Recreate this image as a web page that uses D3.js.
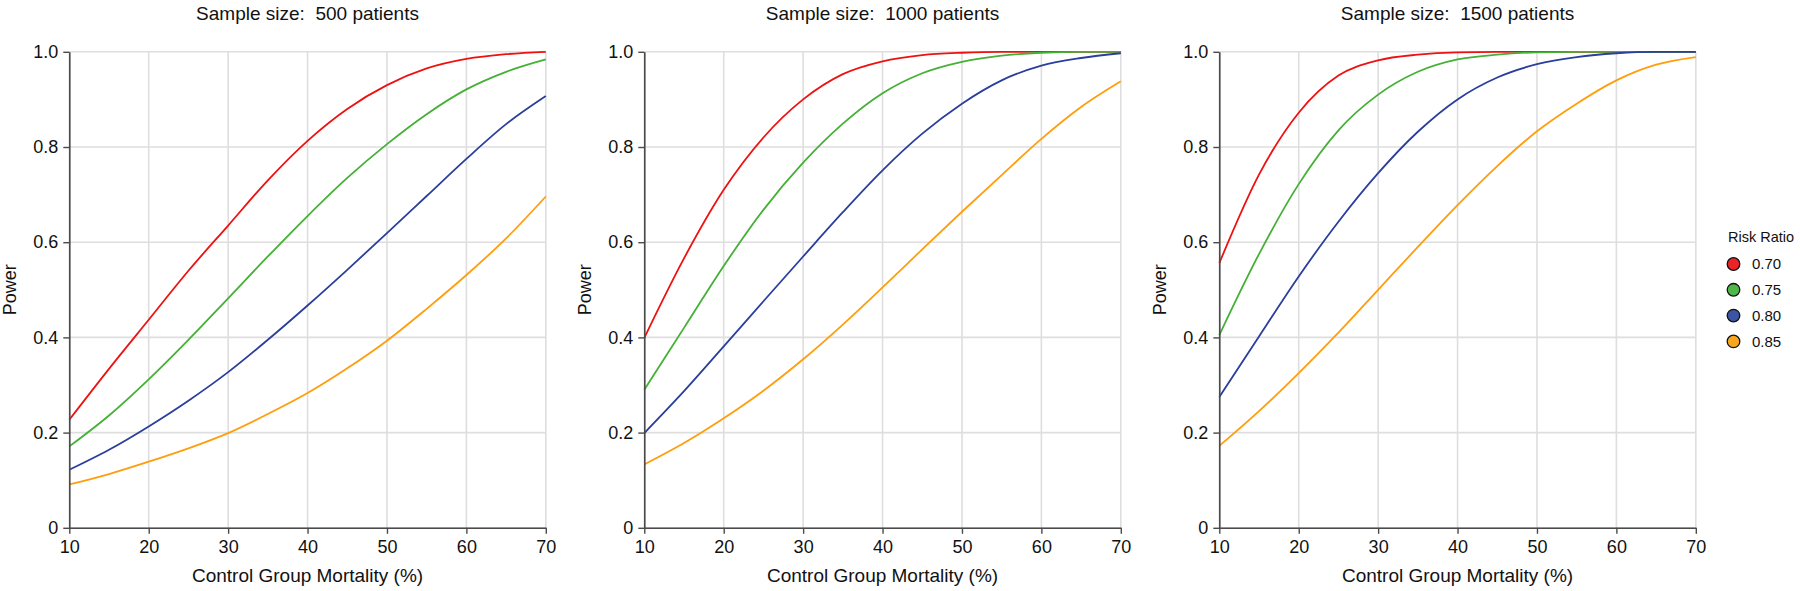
<!DOCTYPE html>
<html><head><meta charset="utf-8">
<script src="https://cdn.jsdelivr.net/npm/d3@7"></script>
<style>body{margin:0;background:#fff;}svg{display:block;font-family:"Liberation Sans",Arial,Helvetica,sans-serif;}</style>
</head><body><svg id="c" width="1800" height="591"></svg>
<script>
// Data
const mortality = [10,15,20,25,30,35,40,45,50,55,60,65,70];
const riskRatios = ["0.70","0.75","0.80","0.85"];
const seriesColors = ["#ee1111","#45b036","#2a3e9c","#ff9e0c"];
const legendColors = ["#ec2227","#4db848","#3a55a6","#f9a51d"];
const sampleSizes = ["500","1000","1500"];
const xTicks = [10,20,30,40,50,60,70];
const yTicks = [0,0.2,0.4,0.6,0.8,1.0];

// power by sample size, series order = riskRatios
const power500_070 = [0.227,0.334,0.437,0.540,0.635,0.730,0.813,0.880,0.930,0.965,0.985,0.995,1.0];
const power500_075 = [0.171,0.236,0.312,0.395,0.482,0.570,0.655,0.735,0.806,0.869,0.921,0.958,0.984];
const power500_080 = [0.122,0.164,0.213,0.267,0.327,0.395,0.467,0.542,0.619,0.697,0.775,0.848,0.907];
const power500_085 = [0.091,0.113,0.139,0.167,0.199,0.239,0.283,0.335,0.393,0.460,0.531,0.608,0.696];

const power1000_070 = [0.399,0.566,0.710,0.820,0.900,0.953,0.980,0.993,0.998,1.0,1.0,1.0,1.0];
const power1000_075 = [0.290,0.420,0.550,0.668,0.767,0.849,0.913,0.955,0.979,0.992,0.998,1.0,1.0];
const power1000_080 = [0.199,0.287,0.381,0.476,0.570,0.663,0.751,0.828,0.891,0.940,0.971,0.987,0.997];
const power1000_085 = [0.133,0.178,0.230,0.288,0.354,0.427,0.505,0.585,0.664,0.741,0.817,0.884,0.938];

const power1500_070 = [0.556,0.742,0.872,0.950,0.982,0.994,0.999,1.0,1.0,1.0,1.0,1.0,1.0];
const power1500_075 = [0.405,0.575,0.722,0.835,0.910,0.958,0.984,0.994,0.999,1.0,1.0,1.0,1.0];
const power1500_080 = [0.275,0.402,0.528,0.643,0.745,0.832,0.900,0.946,0.974,0.989,0.997,1.0,1.0];
const power1500_085 = [0.172,0.245,0.325,0.410,0.500,0.590,0.678,0.760,0.833,0.891,0.940,0.973,0.989];

const panels = [
  [power500_070,power500_075,power500_080,power500_085],
  [power1000_070,power1000_075,power1000_080,power1000_085],
  [power1500_070,power1500_075,power1500_080,power1500_085]
];

const svg = d3.select("#c");
const W = 476.5, H = 476;
const panelX = [69.3, 644.3, 1219.3];
const plotTop = 51.8;

const x = d3.scaleLinear().domain([10,70]).range([0,W]);
const y = d3.scaleLinear().domain([0,1]).range([H,0]);
const line = d3.line().x((d,i)=>x(mortality[i])).y(d=>y(d)).curve(d3.curveMonotoneX);

panels.forEach((series,p)=>{
  const g = svg.append("g").attr("transform",`translate(${panelX[p]},${plotTop})`);
  // grid
  g.append("g").selectAll("line").data(xTicks).join("line")
    .attr("x1",d=>x(d)).attr("x2",d=>x(d)).attr("y1",0).attr("y2",H)
    .attr("stroke","#dedede").attr("stroke-width",1.6);
  g.append("g").selectAll("line").data(yTicks).join("line")
    .attr("y1",d=>y(d)).attr("y2",d=>y(d)).attr("x1",0).attr("x2",W)
    .attr("stroke","#dedede").attr("stroke-width",1.6);
  // lines
  series.forEach((vals,i)=>{
    g.append("path").datum(vals).attr("d",line).attr("fill","none")
      .attr("stroke",seriesColors[i]).attr("stroke-width",1.8);
  });
  // axes
  const xa = g.append("g").attr("transform",`translate(0,${H})`)
    .call(d3.axisBottom(x).tickValues(xTicks).tickSize(6).tickPadding(6).tickSizeOuter(0));
  const ya = g.append("g")
    .call(d3.axisLeft(y).tickValues(yTicks).tickSize(6).tickPadding(5).tickSizeOuter(0)
      .tickFormat(d=>d===0?"0":d3.format(".1f")(d)));
  [xa,ya].forEach(a=>{
    a.select(".domain").attr("stroke","#4a4a4a").attr("stroke-width",1.6);
    a.selectAll(".tick line").attr("stroke","#4a4a4a").attr("stroke-width",1.4);
    a.selectAll("text").attr("font-size","18px").attr("fill","#111").attr("font-family","Liberation Sans, Arial, sans-serif");
  });
  // titles
  g.append("text").attr("x",W/2).attr("y",19.5-plotTop).attr("text-anchor","middle")
    .attr("font-size","19px").attr("fill","#111").text(`Sample size:\u00a0 ${sampleSizes[p]} patients`);
  g.append("text").attr("x",W/2).attr("y",582-plotTop).attr("text-anchor","middle")
    .attr("font-size","19px").attr("fill","#111").text("Control Group Mortality (%)");
  g.append("text").attr("transform",`translate(${-(69.3-16)},${H/2}) rotate(-90)`)
    .attr("text-anchor","middle")
    .attr("font-size","18px").attr("fill","#111").text("Power");
});

// legend
const lg = svg.append("g");
lg.append("text").attr("x",1728).attr("y",242).attr("font-size","14.5px").attr("fill","#111").text("Risk Ratio");
riskRatios.forEach((r,i)=>{
  const cy = 264 + i*25.8;
  lg.append("circle").attr("cx",1733.5).attr("cy",cy).attr("r",6.3)
    .attr("fill",legendColors[i]).attr("stroke","#111").attr("stroke-width",1.3);
  lg.append("text").attr("x",1752).attr("y",cy).attr("dy","0.36em").attr("font-size","15px").attr("fill","#111").text(r);
});
</script></body></html>
